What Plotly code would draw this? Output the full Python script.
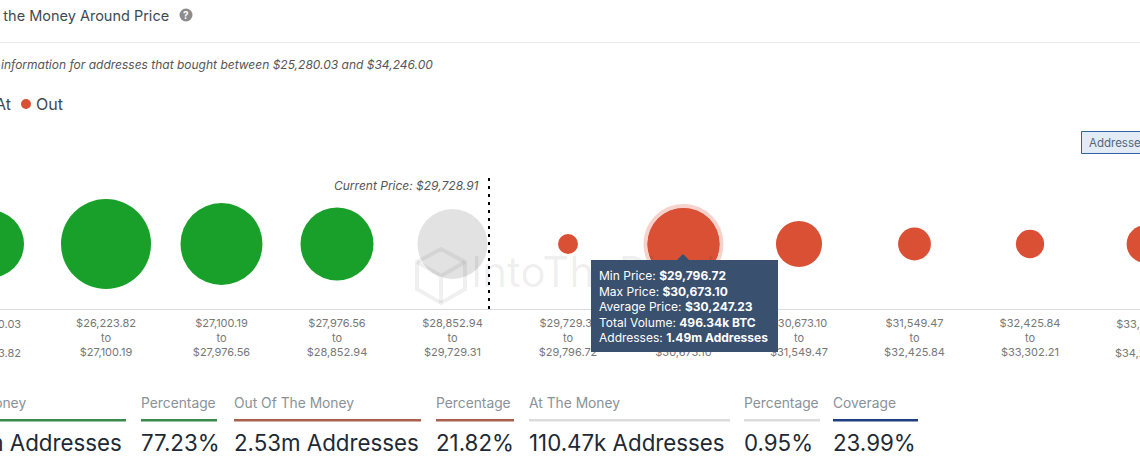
import plotly.graph_objects as go

W, H = 1140, 467
FONT = "Inter, 'Noto Sans', sans-serif"

bin_from = ["$25,280.03", "$26,223.82", "$27,100.19", "$27,976.56", "$28,852.94", "$29,729.31",
            "$29,796.72", "$30,673.10", "$31,549.47", "$32,425.84", "$33,302.21"]
bin_to = ["$26,223.82", "$27,100.19", "$27,976.56", "$28,852.94", "$29,729.31", "$29,796.72",
          "$30,673.10", "$31,549.47", "$32,425.84", "$33,302.21", "$34,246.00"]
addresses_m = [1.29, 2.33, 1.93, 1.53, 1.41, 0.115, 1.49, 0.61, 0.31, 0.23, 0.41]
status = ["In", "In", "In", "In", "At", "Out", "Out", "Out", "Out", "Out", "Out"]
HILITE = 6
CURRENT_INDEX = 4.316
COLORS = {"In": "#19a02a", "At": "#e2e2e2", "Out": "#d95035"}

stat_headers = ["In The Money", "Percentage", "Out Of The Money", "Percentage", "At The Money", "Percentage", "Coverage"]
stat_values = ["8.95m Addresses", "77.23%", "2.53m Addresses", "21.82%", "110.47k Addresses", "0.95%", "23.99%"]
stat_x0 = [-60, 141, 234, 436, 529, 744, 833]
stat_x1 = [126, 217, 421, 514, 730, 820, 918]
stat_colors = ["#3b8a4b", "#3b8a4b", "#a9604e", "#a9604e", "#dcdcdc", "#dcdcdc", "#1f4080"]

tooltip_lines = [("Min Price", "$29,796.72"), ("Max Price", "$30,673.10"), ("Average Price", "$30,247.23"),
                 ("Total Volume", "496.34k BTC"), ("Addresses", "1.49m Addresses")]

# page-pixel to axis mapping helpers
X0, STEP = -9.5, 115.5
AX_TOP, AX_BOTTOM, CY = 170, 309, 244
xr = [(0 - X0) / STEP, (W - X0) / STEP]
yr = [CY - AX_BOTTOM, CY - AX_TOP]
px = lambda x: x / W
py = lambda y: 1 - y / H
idx = list(range(len(addresses_m)))
SIZEREF = 2 / 59 ** 2

fig = go.Figure()
# highlight halo
fig.add_trace(go.Scatter(x=[idx[HILITE]], y=[0], mode="markers", hoverinfo="skip", showlegend=False,
                         marker=dict(size=[addresses_m[HILITE]], sizemode="area", sizeref=SIZEREF, opacity=1,
                                     color=COLORS["Out"], line=dict(width=8, color="rgba(217,80,53,0.25)"))))
# bubbles
for s in ["In", "At", "Out"]:
    pts = [i for i in idx if status[i] == s]
    fig.add_trace(go.Scatter(x=pts, y=[0] * len(pts), mode="markers", name=s, showlegend=False,
                             marker=dict(size=[addresses_m[i] for i in pts], sizemode="area", opacity=1,
                                         sizeref=SIZEREF, color=COLORS[s], line=dict(width=0))))
# watermark, faint over the bubbles but under the tooltip
fig.add_trace(go.Scatter(x=[(471 - X0) / STEP], y=[CY - 276], mode="text", text=["IntoTheBlock"],
                         textposition="middle right", hoverinfo="skip", showlegend=False,
                         textfont=dict(family=FONT, size=42, color="rgba(0,0,0,0.065)")))

shapes, ann = [], []

def text(x, y, t, size=12, color="#555", anchor="left", **k):
    dx = {"left": -2, "right": 2, "center": 0}[anchor]
    ann.append(dict(xref="paper", yref="paper", x=px(x + dx), y=py(y), text=t, showarrow=False, xanchor=anchor,
                    yanchor=k.pop("yanchor", "middle"), align=anchor if anchor != "center" else "center",
                    font=dict(family=FONT, size=size, color=color), **k))

def rect(x0, y0, x1, y1, fill, line=None, layer="above"):
    shapes.append(dict(type="rect", xref="paper", yref="paper", x0=px(x0), x1=px(x1), y0=py(y0), y1=py(y1),
                       fillcolor=fill, line=dict(width=1 if line else 0, color=line or fill), layer=layer))

# header
text(169, 15, "In/Out of the Money Around Price", 14.5, "#3d4a55", "right")
shapes.append(dict(type="circle", xref="paper", yref="paper", x0=px(179.5), x1=px(192.5), y0=py(21.5), y1=py(8.5),
                   fillcolor="#8c8c8c", line=dict(width=0)))
text(186, 15, "<b>?</b>", 10, "white", "center")
rect(0, 42, W, 43, "#ebebeb")
text(433, 65, "<i>Summary information for addresses that bought between $25,280.03 and $34,246.00</i>", 12, "#555", "right")
text(11, 104, "At", 16, "#3d4a55", "right")
shapes.append(dict(type="circle", xref="paper", yref="paper", x0=px(21), x1=px(31), y0=py(109), y1=py(99),
                   fillcolor=COLORS["Out"], line=dict(width=0)))
text(36, 104, "Out", 16, "#3d4a55")
# button
rect(1081.5, 131.5, W + 20, 153.5, "#e3ebf7", "#2f62a8")
text(1089, 142.5, "Addresses", 11.5, "#55657a")

# current price
shapes.append(dict(type="line", xref="x", yref="y", x0=CURRENT_INDEX, x1=CURRENT_INDEX, y0=CY - 309, y1=CY - 178,
                   line=dict(color="black", width=2, dash="3px,5px")))
text(479, 185, "<i>Current Price: $29,728.91</i>", 12, "#555", "right")

# off-screen axis labels (ticks outside the visible range)
for i in (0, 10):
    text(X0 + STEP * i, 338, f"{bin_from[i]}<br>to<br>{bin_to[i]}", 11, "#777", "center")

# logo watermark
lx, ly = 441, 276
hexa = [(lx, ly - 27), (lx + 24, ly - 14), (lx + 24, ly + 13), (lx, ly + 27), (lx - 24, ly + 13), (lx - 24, ly - 14)]
path = "M" + " L".join(f"{px(a)},{py(b)}" for a, b in hexa) + " Z"
inner = f"M{px(lx - 24)},{py(ly - 14)} L{px(lx)},{py(ly)} L{px(lx + 24)},{py(ly - 14)} M{px(lx)},{py(ly)} L{px(lx)},{py(ly + 27)}"
for p in (path, inner):
    shapes.append(dict(type="path", xref="paper", yref="paper", path=p, line=dict(color="rgba(0,0,0,0.06)", width=4)))

# tooltip
TT = "#39506f"
rect(591, 260, 778, 352, TT)
shapes.append(dict(type="path", xref="paper", yref="paper", fillcolor=TT, line=dict(width=0),
                   path=f"M{px(677)},{py(260)} L{px(683)},{py(254)} L{px(689)},{py(260)} Z"))
body = "<br>".join(f"{a}: <b>{b}</b>" for a, b in tooltip_lines)
text(599, 306, body, 12, "white")

# bottom statistics
for h, v, a, b, c in zip(stat_headers, stat_values, stat_x0, stat_x1, stat_colors):
    if a < 0:
        text(26, 403, h, 13.8, "#8a9197", "right")
        text(122, 442, v, 22.3, "#1d2a35", "right")
    else:
        text(a, 403, h, 13.8, "#8a9197")
        text(a, 442, v, 22.3, "#1d2a35")
    rect(max(a, -5), 419, b, 421.5, c)

fig.update_layout(
    width=W, height=H, margin=dict(l=0, r=0, t=0, b=0), autosize=False,
    paper_bgcolor="white", plot_bgcolor="white", showlegend=False,
    shapes=shapes, annotations=ann, font=dict(family=FONT),
    xaxis=dict(range=xr, tickmode="array", tickvals=idx[1:10],
               ticktext=[f"{a}<br>to<br>{b}" for a, b in zip(bin_from[1:10], bin_to[1:10])],
               tickfont=dict(family=FONT, size=11, color="#777"), showgrid=False, zeroline=False,
               showline=True, linecolor="#d8dbe0", linewidth=1, ticks="", ticklabelstandoff=4),
    yaxis=dict(range=yr, visible=False, domain=[py(AX_BOTTOM), py(AX_TOP)], fixedrange=True),
)
fig.write_html("out.html", config=dict(displayModeBar=False),
               post_script="document.body.style.margin='0';document.body.style.overflow='hidden';")
